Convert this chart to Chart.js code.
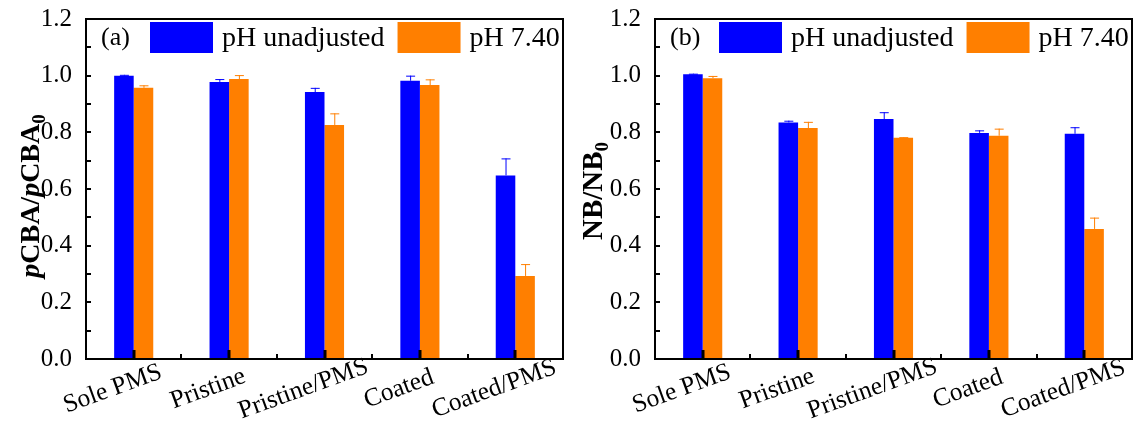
<!DOCTYPE html>
<html>
<head>
<meta charset="utf-8">
<script src="https://cdn.jsdelivr.net/npm/chart.js@4.4.1/dist/chart.umd.min.js"></script>
<style>
html, body { margin: 0; padding: 0; background: #fff; }
#wrap { position: relative; width: 1138px; height: 430px; }
canvas { position: absolute; top: 0; }
</style>
</head>
<body>
<div id="wrap">
  <canvas id="chartA" width="569" height="430" style="left:0px"></canvas>
  <canvas id="chartB" width="569" height="430" style="left:569px"></canvas>
</div>
<script>
const categories = ['Sole PMS', 'Pristine', 'Pristine/PMS', 'Coated', 'Coated/PMS'];
const seriesNames = ['pH unadjusted', 'pH 7.40'];
const yMin = 0, yMax = 1.2, yStep = 0.2;

// panel (a): pCBA/pCBA0
const pcbaUnadj    = [1.000, 0.978, 0.942, 0.982, 0.648];
const pcbaUnadjErr = [0.003, 0.010, 0.015, 0.018, 0.060];
const pcba740      = [0.957, 0.988, 0.826, 0.967, 0.293];
const pcba740Err   = [0.009, 0.014, 0.041, 0.020, 0.042];

// panel (b): NB/NB0
const nbUnadj    = [1.005, 0.835, 0.847, 0.798, 0.795];
const nbUnadjErr = [0.002, 0.006, 0.024, 0.009, 0.023];
const nb740      = [0.991, 0.815, 0.781, 0.788, 0.459];
const nb740Err   = [0.008, 0.022, 0.002, 0.025, 0.040];

const BLUE = '#0000ff';
const ORANGE = '#ff7f00';
const SERIF = '"Liberation Serif", "Times New Roman", serif';

// error bars on top of each bar
const errorBars = {
  id: 'errorBars',
  afterDatasetsDraw(chart) {
    const ctx = chart.ctx;
    const y = chart.scales.y;
    chart.data.datasets.forEach((ds, i) => {
      const meta = chart.getDatasetMeta(i);
      meta.data.forEach((bar, j) => {
        const top = y.getPixelForValue(ds.data[j] + ds.errors[j]);
        ctx.save();
        ctx.strokeStyle = ds.backgroundColor;
        ctx.lineWidth = 1;
        ctx.beginPath();
        ctx.moveTo(bar.x + 0.5, bar.y);
        ctx.lineTo(bar.x + 0.5, top);
        ctx.moveTo(bar.x - 4, top + 0.5);
        ctx.lineTo(bar.x + 5, top + 0.5);
        ctx.stroke();
        ctx.restore();
      });
    });
  }
};

// frame, inward ticks, rotated category labels, y title, legend
const decor = {
  id: 'decor',
  afterDraw(chart, args, opts) {
    const ctx = chart.ctx;
    const a = chart.chartArea;
    const xs = chart.scales.x, ys = chart.scales.y;
    ctx.save();
    ctx.strokeStyle = '#000';
    ctx.fillStyle = '#000';

    // frame
    ctx.lineWidth = 2;
    ctx.strokeRect(a.left, a.top, a.right - a.left, a.bottom - a.top);

    // y ticks (inward, every 0.1)
    for (let k = 1; k < 12; k++) {
      const py = Math.round(ys.getPixelForValue(k / 10));
      ctx.beginPath();
      ctx.moveTo(a.left, py);
      ctx.lineTo(a.left + 5, py);
      ctx.stroke();
    }

    // x ticks: major at categories, minor between them
    for (let i = 0; i < categories.length; i++) {
      const px = Math.round(xs.getPixelForValue(i));
      ctx.lineWidth = 3;
      ctx.beginPath();
      ctx.moveTo(px, a.bottom);
      ctx.lineTo(px, a.bottom - 9);
      ctx.stroke();
      if (i < categories.length - 1) {
        const mx = Math.round((xs.getPixelForValue(i) + xs.getPixelForValue(i + 1)) / 2);
        ctx.lineWidth = 2;
        ctx.beginPath();
        ctx.moveTo(mx, a.bottom);
        ctx.lineTo(mx, a.bottom - 5);
        ctx.stroke();
      }
    }

    // category labels
    ctx.font = '25.5px ' + SERIF;
    ctx.textAlign = 'center';
    ctx.textBaseline = 'middle';
    categories.forEach((c, i) => {
      const px = xs.getPixelForValue(i);
      ctx.save();
      ctx.translate(px - 21, a.bottom + 30);
      ctx.rotate(-20 * Math.PI / 180);
      ctx.fillText(c, 0, 0);
      ctx.restore();
    });

    // y axis title with mixed styles
    const parts = opts.title;
    ctx.textAlign = 'left';
    ctx.textBaseline = 'alphabetic';
    let total = 0;
    parts.forEach(p => {
      ctx.font = p.font;
      p.w = ctx.measureText(p.t).width;
      total += p.w;
    });
    ctx.save();
    ctx.translate(opts.titleX, opts.titleY);
    ctx.rotate(-Math.PI / 2);
    let u = -total / 2;
    parts.forEach(p => {
      ctx.font = p.font;
      ctx.fillText(p.t, u, p.dy || 0);
      u += p.w;
    });
    ctx.restore();

    // panel label and legend
    const ly = a.top + 19;
    ctx.textBaseline = 'middle';
    ctx.font = '26px ' + SERIF;
    ctx.fillText(opts.panel, a.left + 15, ly);
    ctx.font = '28px ' + SERIF;
    let lx = a.left + 64;
    chart.data.datasets.forEach(ds => {
      ctx.fillStyle = ds.backgroundColor;
      ctx.fillRect(lx, a.top + 3, 63, 31);
      ctx.fillStyle = '#000';
      ctx.fillText(ds.label, lx + 72, ly + 1);
      lx += 72 + ctx.measureText(ds.label).width + 13;
    });
    ctx.restore();
  }
};

function makeChart(id, unadj, unadjErr, ph740, ph740Err, opts) {
  return new Chart(document.getElementById(id), {
    type: 'bar',
    data: {
      labels: categories,
      datasets: [
        { label: seriesNames[0], data: unadj, errors: unadjErr, backgroundColor: BLUE },
        { label: seriesNames[1], data: ph740, errors: ph740Err, backgroundColor: ORANGE }
      ]
    },
    options: {
      responsive: false,
      animation: false,
      layout: { padding: { left: 0, right: 6, top: 19, bottom: 0 } },
      datasets: { bar: { barPercentage: 1.0, categoryPercentage: 0.41, borderWidth: 0 } },
      scales: {
        x: {
          grid: { display: false },
          border: { display: false },
          ticks: { display: false },
          afterFit: s => { s.height = 71; s.paddingLeft = 0; s.paddingRight = 0; }
        },
        y: {
          min: yMin, max: yMax,
          grid: { display: false, drawTicks: false },
          border: { display: false },
          ticks: {
            stepSize: yStep,
            padding: 14,
            color: '#000',
            font: { family: SERIF, size: 25 },
            callback: v => v.toFixed(1)
          },
          afterFit: s => { s.width = 86; s.paddingTop = 0; s.paddingBottom = 0; }
        }
      },
      plugins: {
        legend: { display: false },
        tooltip: { enabled: false },
        decor: opts
      }
    },
    plugins: [errorBars, decor]
  });
}

const boldF = 'bold 28px ' + SERIF;
const italF = 'italic bold 28px ' + SERIF;
const subF = 'bold 19px ' + SERIF;

makeChart('chartA', pcbaUnadj, pcbaUnadjErr, pcba740, pcba740Err, {
  panel: '(a)',
  titleX: 39, titleY: 196,
  title: [
    { t: 'p', font: italF }, { t: 'CBA/', font: boldF },
    { t: 'p', font: italF }, { t: 'CBA', font: boldF },
    { t: '0', font: subF, dy: 6 }
  ]
});

makeChart('chartB', nbUnadj, nbUnadjErr, nb740, nb740Err, {
  panel: '(b)',
  titleX: 33, titleY: 191,
  title: [
    { t: 'NB/NB', font: 'bold 29px ' + SERIF },
    { t: '0', font: subF, dy: 6 }
  ]
});
</script>
</body>
</html>
